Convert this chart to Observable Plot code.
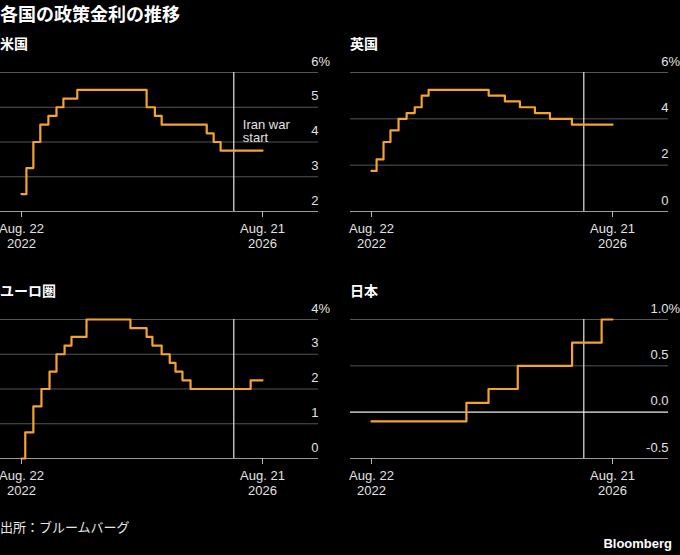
<!DOCTYPE html>
<html><head><meta charset="utf-8">
<script src="https://cdn.jsdelivr.net/npm/d3@7"></script>
<script src="https://cdn.jsdelivr.net/npm/@observablehq/plot@0.6"></script>
<style>
body{margin:0;background:#000;}
#root{position:relative;width:680px;height:555px;background:#000;overflow:hidden;font-family:"Noto Sans CJK JP","Liberation Sans",sans-serif;color:#fff;}
.t{position:absolute;white-space:nowrap;}
.panel{position:absolute;}
</style></head><body><div id="root"></div>
<script>
// ---- data ----
const title = "各国の政策金利の推移";
const source = "出所：ブルームバーグ";
const brand = "Bloomberg";
const panelTitles = ["米国", "英国", "ユーロ圏", "日本"];
const endDate = "2026-08-21";
const iranWarDate = "2026-02-28";
const iranWarLabel = "Iran war\nstart";
const iranWarLabelY = 4.32;
const xDomain = ["2022-04-17", "2027-07-26"];
const xTicks = ["2022-08-22", "2026-08-21"];
const xTickLabels = ["Aug. 22\n2022", "Aug. 21\n2026"];

const usDates = ["2022-08-22","2022-09-21","2022-11-02","2022-12-14","2023-02-01","2023-03-22","2023-05-03","2023-07-26","2024-09-18","2024-11-07","2024-12-18","2025-09-17","2025-10-29","2025-12-10"];
const usRates = [2.5,3.25,4.0,4.5,4.75,5.0,5.25,5.5,5.0,4.75,4.5,4.25,4.0,3.75];
const usYTicks = [2,3,4,5,6];

const ukDates = ["2022-08-22","2022-09-22","2022-11-03","2022-12-15","2023-02-02","2023-03-23","2023-05-11","2023-06-22","2023-08-03","2024-08-01","2024-11-07","2025-02-06","2025-05-08","2025-08-07","2025-12-18"];
const ukRates = [1.75,2.25,3.0,3.5,4.0,4.25,4.5,5.0,5.25,5.0,4.75,4.5,4.25,4.0,3.75];
const ukYTicks = [0,2,4,6];

const euDates = ["2022-08-22","2022-09-14","2022-11-02","2022-12-21","2023-02-08","2023-03-22","2023-05-10","2023-06-21","2023-09-20","2024-06-12","2024-09-18","2024-10-23","2024-12-18","2025-02-05","2025-03-12","2025-04-23","2025-06-11","2026-06-10"];
const euRates = [0.0,0.75,1.5,2.0,2.5,3.0,3.25,3.5,4.0,3.75,3.5,3.25,3.0,2.75,2.5,2.25,2.0,2.25];
const euYTicks = [0,1,2,3,4];

const jpDates = ["2022-08-22","2024-03-19","2024-07-31","2025-01-24","2025-12-19","2026-06-16"];
const jpRates = [-0.1,0.1,0.25,0.5,0.75,1.0];
const jpYTicks = [-0.5,0,0.5,1.0];

// ---- colors ----
const lineColor = "#f5a22e";
const gridColor = "#555";
const baseColor = "#9a9a9a";
const textColor = "#e2e2e2";

function series(dates, rates) {
  const rows = dates.map((d, i) => ({date: new Date(d), rate: rates[i]}));
  rows.push({date: new Date(endDate), rate: rates[rates.length - 1]});
  return rows;
}

function panel({dates, rates, yTicks, fmt, zeroLine, annotate, left}) {
  const data = series(dates, rates);
  const yDomain = [yTicks[0], yTicks[yTicks.length - 1]];
  const top = yDomain[1];
  const tickDates = xTicks.map(d => new Date(d));
  const marks = [
    Plot.gridY(yTicks, {stroke: gridColor, strokeOpacity: 1}),
    Plot.ruleY([yDomain[0]], {stroke: baseColor, strokeWidth: 1.2}),
  ];
  if (zeroLine) marks.push(Plot.ruleY([0], {stroke: "#d8d8d8", strokeWidth: 1.2}));
  marks.push(
    Plot.ruleX([new Date(iranWarDate)], {stroke: "#e6e6e6", strokeWidth: 1.2}),
    Plot.line(data, {x: "date", y: "rate", curve: "step-after", stroke: lineColor, strokeWidth: 2.2}),
    Plot.axisY(yTicks, {anchor: "right", label: null, tickSize: 0, tickPadding: 0, textAnchor: "end", dy: -11, tickFormat: fmt, fill: textColor}),
    Plot.text([top], {y: d => d, frameAnchor: "right", text: () => "%", textAnchor: "start", dy: -11, fill: textColor}),
    Plot.axisX(tickDates, {label: null, tickSize: 6, tickPadding: 5, lineHeight: 1.15, stroke: "#bbb", fill: textColor,
      tickFormat: d => xTickLabels[tickDates.findIndex(t => +t === +d)]})
  );
  if (annotate) {
    marks.push(Plot.text([{x: new Date(iranWarDate), y: iranWarLabelY}], {
      x: "x", y: "y", text: () => iranWarLabel, textAnchor: "start", lineAnchor: "middle",
      lineHeight: 1.0, dx: 9, fill: textColor
    }));
  }
  return Plot.plot({
    width: 340, height: 204,
    marginTop: 20, marginBottom: 45,
    marginLeft: left ? 0 : 10, marginRight: left ? 22 : 12,
    x: {type: "utc", domain: xDomain.map(d => new Date(d)), axis: null, label: null},
    y: {domain: yDomain, axis: null, label: null},
    style: {background: "transparent", color: textColor, fontSize: "13px", fontFamily: "'Liberation Sans', Arial, sans-serif", overflow: "visible"},
    marks
  });
}

const root = document.getElementById("root");
function addText(txt, css) {
  const d = document.createElement("div");
  d.className = "t";
  d.textContent = txt;
  Object.assign(d.style, css);
  root.appendChild(d);
}
addText(title, {left: "0px", top: "3px", fontSize: "18px", lineHeight: "20px", fontWeight: "bold"});

const intFmt = d => String(d);
const jpFmt = d => d.toFixed(1);
const configs = [
  {dates: usDates, rates: usRates, yTicks: usYTicks, fmt: intFmt, annotate: true, left: true, x: 0, y: 52},
  {dates: ukDates, rates: ukRates, yTicks: ukYTicks, fmt: intFmt, left: false, x: 340, y: 52},
  {dates: euDates, rates: euRates, yTicks: euYTicks, fmt: intFmt, left: true, x: 0, y: 299},
  {dates: jpDates, rates: jpRates, yTicks: jpYTicks, fmt: jpFmt, zeroLine: true, left: false, x: 340, y: 299},
];
configs.forEach((c, i) => {
  addText(panelTitles[i], {left: (c.x + (c.left ? 0 : 10)) + "px", top: (c.y - 17) + "px", fontSize: "14px", lineHeight: "16px", fontWeight: "bold"});
  const svg = panel(c);
  const wrap = document.createElement("div");
  wrap.className = "panel";
  wrap.style.left = c.x + "px";
  wrap.style.top = c.y + "px";
  wrap.appendChild(svg);
  root.appendChild(wrap);
});
addText(source, {left: "0px", top: "518px", fontSize: "13px", lineHeight: "18px", color: "#e6e6e6"});
addText(brand, {right: "8px", top: "535px", fontSize: "13px", lineHeight: "18px", fontWeight: "bold", fontFamily: "'Liberation Sans', Arial, sans-serif"});
</script></body></html>
